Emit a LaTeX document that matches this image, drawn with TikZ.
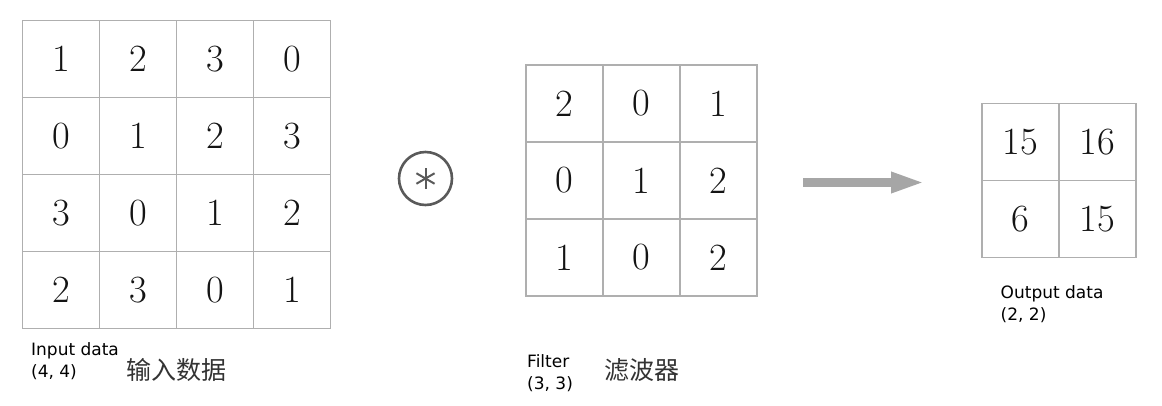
\documentclass[tikz,border=0pt]{standalone}
\usepackage{fontspec}
\usetikzlibrary{arrows.meta}
\newfontfamily\labelfont{DejaVu Sans}
\newfontfamily\cjk{Noto Sans CJK SC}
\definecolor{gridgray}{RGB}{175,175,175}
\definecolor{arrowgray}{RGB}{166,166,166}
\definecolor{ringgray}{RGB}{90,90,90}
\definecolor{digitblack}{RGB}{20,20,20}
\tikzset{
	cell/.style={draw=gridgray, line width=1.5pt, minimum size=77pt, inner sep=0pt, text=digitblack, font=\fontsize{38.5}{40}\selectfont},
	datalabel/.style={anchor=north west, inner sep=0pt, align=left, font=\labelfont\fontsize{17}{22}\selectfont},
	cnlabel/.style={inner sep=0pt, text=black!80, font=\cjk\fontsize{25}{28}\selectfont}
}

\begin{document}
\begin{tikzpicture}[x=1pt, y=-1pt]
		%%%%% START %%%%%
		
		\useasboundingbox (0, 0) rectangle (1162, 405);
		
		% input data 4x4
		\node[cell] (in11) at (61.2, 59.2) {1};
		\node[cell] (in12) at (138.2, 59.2) {2};
		\node[cell] (in13) at (215.2, 59.2) {3};
		\node[cell] (in14) at (292.2, 59.2) {0};
		\node[cell] (in21) at (61.2, 136.2) {0};
		\node[cell] (in22) at (138.2, 136.2) {1};
		\node[cell] (in23) at (215.2, 136.2) {2};
		\node[cell] (in24) at (292.2, 136.2) {3};
		\node[cell] (in31) at (61.2, 213.2) {3};
		\node[cell] (in32) at (138.2, 213.2) {0};
		\node[cell] (in33) at (215.2, 213.2) {1};
		\node[cell] (in34) at (292.2, 213.2) {2};
		\node[cell] (in41) at (61.2, 290.2) {2};
		\node[cell] (in42) at (138.2, 290.2) {3};
		\node[cell] (in43) at (215.2, 290.2) {0};
		\node[cell] (in44) at (292.2, 290.2) {1};
		
		\node[datalabel] (inlabel) at (31, 342) {Input data\\(4, 4)};
		\node[cnlabel] (incn) at (176, 370) {输入数据};
		
		% convolution sign
		\node[circle, draw=ringgray, line width=2.6pt, minimum size=53pt, inner sep=0pt] (conv) at (425.5, 178.5) {};
		\draw[ringgray, line width=2pt] (conv.center) ++(90:10.5) -- ++(270:21);
		\draw[ringgray, line width=2pt] (conv.center) ++(30:10.5) -- ++(210:21);
		\draw[ringgray, line width=2pt] (conv.center) ++(150:10.5) -- ++(330:21);
		
		% filter 3x3
		\node[cell] (fl11) at (564.5, 103.5) {2};
		\node[cell] (fl12) at (641.5, 103.5) {0};
		\node[cell] (fl13) at (718.5, 103.5) {1};
		\node[cell] (fl21) at (564.5, 180.5) {0};
		\node[cell] (fl22) at (641.5, 180.5) {1};
		\node[cell] (fl23) at (718.5, 180.5) {2};
		\node[cell] (fl31) at (564.5, 257.5) {1};
		\node[cell] (fl32) at (641.5, 257.5) {0};
		\node[cell] (fl33) at (718.5, 257.5) {2};
		
		\node[datalabel] (fllabel) at (527, 354) {Filter\\(3, 3)};
		\node[cnlabel] (flcn) at (642, 370.5) {滤波器};
		
		% arrow
		\coordinate (arrS) at (803, 182.5);
		\coordinate (arrE) at (925, 182.5);
		\draw[arrowgray, line width=8.5pt, -{Triangle[length=34pt, width=19pt]}] (arrS) -- (arrE);
		
		% output data 2x2
		\node[cell] (out11) at (1020.5, 141.8) {15};
		\node[cell] (out12) at (1097.5, 141.8) {16};
		\node[cell] (out21) at (1020.5, 218.8) {6};
		\node[cell] (out22) at (1097.5, 218.8) {15};
		
		\node[datalabel] (outlabel) at (1000.5, 285.5) {Output data\\(2, 2)};
		
		%%%%% END %%%%%
	\end{tikzpicture}
\end{document}
